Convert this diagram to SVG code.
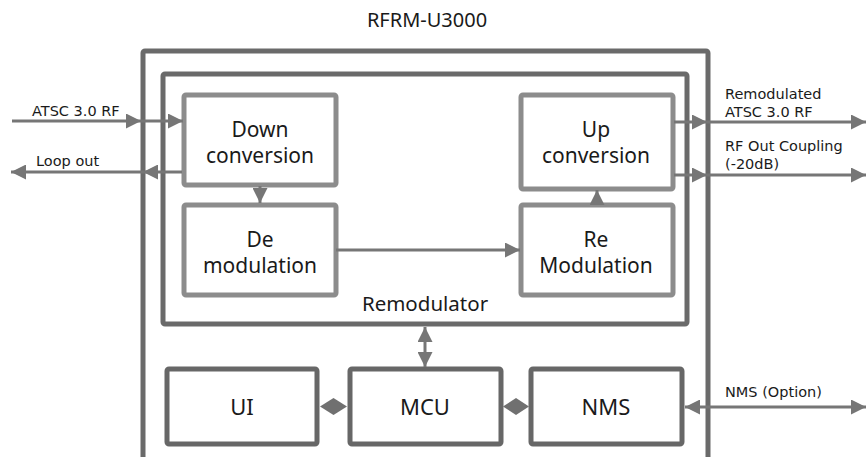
<svg xmlns="http://www.w3.org/2000/svg" width="867" height="457" viewBox="0 0 867 457">
<style>
.dark{fill:none;stroke:#6a6a6a;stroke-width:5}
.light{fill:#fff;stroke:#8c8c8c;stroke-width:5}
.blk{fill:#fff;stroke:#676767;stroke-width:5}
.ln{fill:none;stroke:#767676;stroke-width:3}
.t{font-family:"Noto Sans","Open Sans",sans-serif;fill:#1a1a1a}
.big{font-size:21px;text-anchor:middle}
.sm{font-family:"DejaVu Sans","Noto Sans",sans-serif;font-size:14.5px;fill:#1a1a1a}
.dia{fill:#707070}
</style>
<defs>
<marker id="ah" viewBox="0 0 15 15" refX="15" refY="7.5" markerWidth="15" markerHeight="15" markerUnits="userSpaceOnUse" orient="auto-start-reverse">
<path d="M0,0 L15,7.5 L0,15 z" fill="#767676"/>
</marker>
</defs>
<rect width="867" height="457" fill="#fff"/>
<text class="t" x="427" y="27" font-size="20" text-anchor="middle">RFRM-U3000</text>
<g id="outer"><rect class="dark" x="143" y="51" width="565" height="430" rx="2"/></g>
<g id="remodulator"><rect class="dark" x="163" y="74" width="524" height="250" rx="2"/>
<text class="t" x="425" y="311" font-size="20.5" text-anchor="middle">Remodulator</text></g>
<g id="down"><rect class="light" x="184" y="95" width="152" height="90" rx="2"/>
<text class="t big" x="260" y="137">Down</text><text class="t big" x="260" y="163">conversion</text></g>
<g id="demod"><rect class="light" x="184" y="205" width="152" height="90" rx="2"/>
<text class="t big" x="260" y="247">De</text><text class="t big" x="260" y="273">modulation</text></g>
<g id="up"><rect class="light" x="521" y="95" width="152" height="94" rx="2"/>
<text class="t big" x="596" y="137">Up</text><text class="t big" x="596" y="163">conversion</text></g>
<g id="remod"><rect class="light" x="521" y="205" width="152" height="90" rx="2"/>
<text class="t big" x="596" y="247">Re</text><text class="t big" x="596" y="273">Modulation</text></g>
<g id="ui"><rect class="blk" x="167" y="369" width="150" height="75" rx="2"/>
<text class="t" x="242" y="415" font-size="22" text-anchor="middle">UI</text></g>
<g id="mcu"><rect class="blk" x="350" y="369" width="151" height="75" rx="2"/>
<text class="t" x="425" y="415" font-size="22" text-anchor="middle">MCU</text></g>
<g id="nms"><rect class="blk" x="531" y="369" width="151" height="75" rx="2"/>
<text class="t" x="606" y="415" font-size="22" text-anchor="middle">NMS</text></g>
<g id="connectors">
<line class="ln" x1="12" y1="121" x2="141" y2="121" marker-end="url(#ah)"/>
<line class="ln" x1="141" y1="121" x2="183" y2="121" marker-end="url(#ah)"/>
<line class="ln" x1="182" y1="172" x2="143" y2="172" marker-end="url(#ah)"/>
<line class="ln" x1="143" y1="172" x2="11" y2="172" marker-end="url(#ah)"/>
<line class="ln" x1="260" y1="186" x2="260" y2="203" marker-end="url(#ah)"/>
<line class="ln" x1="336" y1="250" x2="520" y2="250" marker-end="url(#ah)"/>
<line class="ln" x1="597" y1="204" x2="597" y2="190" marker-end="url(#ah)"/>
<line class="ln" x1="674" y1="122" x2="707" y2="122" marker-end="url(#ah)"/>
<line class="ln" x1="707" y1="122" x2="866" y2="122" marker-end="url(#ah)"/>
<line class="ln" x1="674" y1="175" x2="707" y2="175" marker-end="url(#ah)"/>
<line class="ln" x1="707" y1="175" x2="866" y2="175" marker-end="url(#ah)"/>
<line class="ln" x1="685" y1="407" x2="866" y2="407" marker-start="url(#ah)" marker-end="url(#ah)"/>
<line class="ln" x1="425" y1="327" x2="425" y2="367" marker-start="url(#ah)" marker-end="url(#ah)"/>
<polygon class="dia" points="320,406.5 333.5,398 347,406.5 333.5,415"/>
<polygon class="dia" points="503,406.5 516,398 529,406.5 516,415"/>
</g>
<text class="sm" x="32" y="116">ATSC 3.0 RF</text>
<text class="sm" x="36" y="166">Loop out</text>
<text class="sm" x="725" y="99">Remodulated</text>
<text class="sm" x="725" y="117">ATSC 3.0 RF</text>
<text class="sm" x="725" y="151">RF Out Coupling</text>
<text class="sm" x="725" y="169">(-20dB)</text>
<text class="sm" x="725" y="397">NMS (Option)</text>
</svg>
